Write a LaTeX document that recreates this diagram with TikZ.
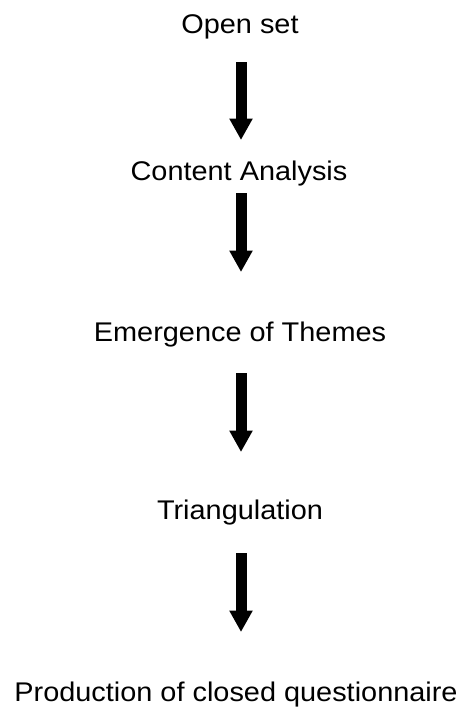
\documentclass[tikz,border=0pt]{standalone}
\usepackage{fontspec}
\setmainfont{Liberation Sans}[FakeStretch=1.07]
\usetikzlibrary{arrows.meta}
\begin{document}
\begin{tikzpicture}[x=1pt,y=-1pt,
  label/.style={anchor=base,inner sep=0pt,font=\fontsize{27}{32}\selectfont},
  bigarrow/.style={line width=11pt,-{Triangle[length=21.5pt,width=22pt]},shorten >=0pt}]
\useasboundingbox (0,0) rectangle (463,707);
\node[label] (t1) at (240,33) {Open set};
\node[label] (t2) at (239,180) {Content Analysis};
\node[label] (t3) at (240,341) {Emergence of Themes};
\node[label] (t4) at (240,519) {Triangulation};
\node[label] (t5) at (236,701) {Production of closed questionnaire};
\coordinate (a1s) at (241,62);  \coordinate (a1e) at (241,140);
\coordinate (a2s) at (241,193); \coordinate (a2e) at (241,272);
\coordinate (a3s) at (241,373); \coordinate (a3e) at (241,452);
\coordinate (a4s) at (241,553); \coordinate (a4e) at (241,632);
\draw[bigarrow] (a1s) -- (a1e);
\draw[bigarrow] (a2s) -- (a2e);
\draw[bigarrow] (a3s) -- (a3e);
\draw[bigarrow] (a4s) -- (a4e);
\end{tikzpicture}
\end{document}
